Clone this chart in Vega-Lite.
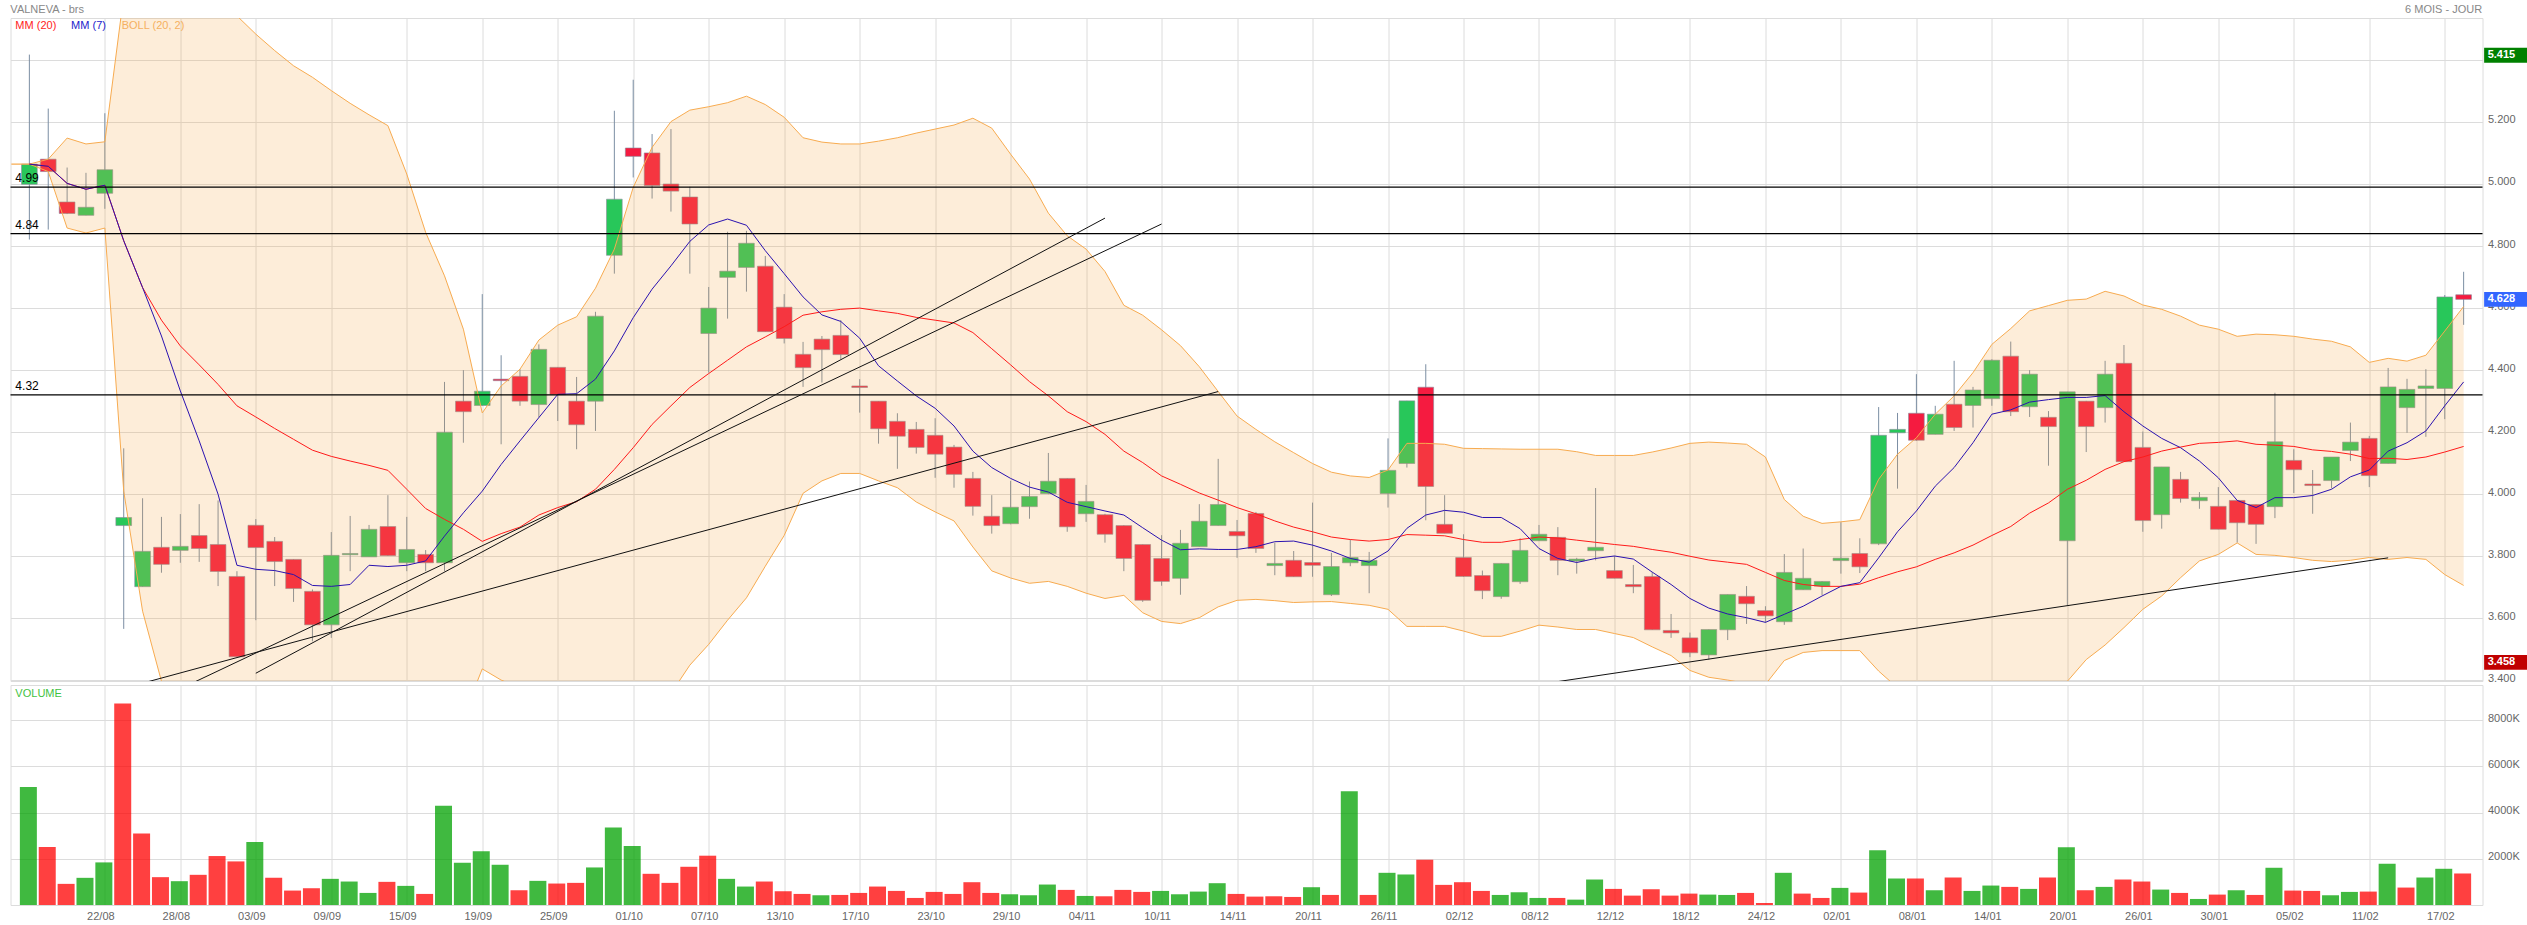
{
"$schema":"https://vega.github.io/schema/vega-lite/v6.json",
"background":"white",
"padding":{"left":8.5,"top":3,"right":0,"bottom":0},
"spacing":4,
"bounds":"flush",
"resolve":{"scale":{"color":"independent"}},
"config":{"view":{"stroke":"#dcdcdc","strokeWidth":1},"font":"Liberation Sans","concat":{"spacing":4}},
"datasets":{
"candles":[
{"date":"18/08","open":4.999,"high":5.417,"low":4.821,"close":5.064,"volume":5104,"volSide":"up","ma20":5.064,"ma7":5.064,"bollUp":5.064,"bollLow":5.064},
{"date":"19/08","open":5.08,"high":5.243,"low":4.853,"close":5.04,"volume":2509,"volSide":"down","ma20":5.057,"ma7":5.057,"bollUp":5.08,"bollLow":5.04},
{"date":"20/08","open":4.942,"high":5.053,"low":4.903,"close":4.905,"volume":914,"volSide":"down","ma20":5.002,"ma7":5.002,"bollUp":5.148,"bollLow":4.858},
{"date":"21/08","open":4.899,"high":5.036,"low":4.899,"close":4.925,"volume":1175,"volSide":"up","ma20":4.983,"ma7":4.983,"bollUp":5.129,"bollLow":4.842},
{"date":"22/08","open":4.97,"high":5.228,"low":4.92,"close":5.046,"volume":1842,"volSide":"up","ma20":4.996,"ma7":4.996,"bollUp":5.136,"bollLow":4.858},
{"date":"25/08","open":3.899,"high":4.148,"low":3.566,"close":3.925,"volume":8715,"volSide":"down","ma20":4.817,"ma7":4.817,"bollUp":5.607,"bollLow":4.01},
{"date":"26/08","open":3.702,"high":3.987,"low":3.702,"close":3.816,"volume":3089,"volSide":"down","ma20":4.666,"ma7":4.666,"bollUp":5.699,"bollLow":3.623},
{"date":"27/08","open":3.829,"high":3.927,"low":3.747,"close":3.774,"volume":1204,"volSide":"down","ma20":4.561,"ma7":4.51,"bollUp":5.752,"bollLow":3.397},
{"date":"28/08","open":3.819,"high":3.936,"low":3.779,"close":3.832,"volume":1030,"volSide":"up","ma20":4.478,"ma7":4.333,"bollUp":5.752,"bollLow":3.172},
{"date":"29/08","open":3.867,"high":3.968,"low":3.782,"close":3.825,"volume":1305,"volSide":"down","ma20":4.417,"ma7":4.172,"bollUp":5.699,"bollLow":3.01},
{"date":"01/09","open":3.838,"high":3.98,"low":3.704,"close":3.751,"volume":2117,"volSide":"down","ma20":4.354,"ma7":4.0,"bollUp":5.596,"bollLow":2.903},
{"date":"02/09","open":3.735,"high":3.752,"low":3.476,"close":3.476,"volume":1885,"volSide":"down","ma20":4.285,"ma7":3.771,"bollUp":5.542,"bollLow":2.795},
{"date":"03/09","open":3.9,"high":3.92,"low":3.594,"close":3.828,"volume":2726,"volSide":"up","ma20":4.249,"ma7":3.758,"bollUp":5.483,"bollLow":2.709},
{"date":"04/09","open":3.848,"high":3.862,"low":3.704,"close":3.783,"volume":1175,"volSide":"down","ma20":4.212,"ma7":3.754,"bollUp":5.43,"bollLow":2.65},
{"date":"05/09","open":3.79,"high":3.79,"low":3.653,"close":3.696,"volume":624,"volSide":"down","ma20":4.177,"ma7":3.741,"bollUp":5.381,"bollLow":2.6},
{"date":"08/09","open":3.687,"high":3.693,"low":3.526,"close":3.579,"volume":725,"volSide":"down","ma20":4.142,"ma7":3.706,"bollUp":5.344,"bollLow":2.6},
{"date":"09/09","open":3.579,"high":3.878,"low":3.537,"close":3.803,"volume":1131,"volSide":"up","ma20":4.122,"ma7":3.703,"bollUp":5.301,"bollLow":2.6},
{"date":"10/09","open":3.805,"high":3.93,"low":3.752,"close":3.809,"volume":1015,"volSide":"up","ma20":4.107,"ma7":3.709,"bollUp":5.26,"bollLow":2.65},
{"date":"11/09","open":3.798,"high":3.901,"low":3.798,"close":3.887,"volume":522,"volSide":"up","ma20":4.093,"ma7":3.771,"bollUp":5.223,"bollLow":2.7},
{"date":"12/09","open":3.896,"high":3.997,"low":3.801,"close":3.802,"volume":1001,"volSide":"down","ma20":4.077,"ma7":3.767,"bollUp":5.188,"bollLow":2.75},
{"date":"15/09","open":3.779,"high":3.927,"low":3.752,"close":3.822,"volume":827,"volSide":"up","ma20":4.016,"ma7":3.771,"bollUp":5.032,"bollLow":2.85},
{"date":"16/09","open":3.806,"high":3.82,"low":3.752,"close":3.779,"volume":479,"volSide":"down","ma20":3.954,"ma7":3.785,"bollUp":4.844,"bollLow":3.0},
{"date":"17/09","open":3.779,"high":4.362,"low":3.752,"close":4.2,"volume":4292,"volSide":"up","ma20":3.919,"ma7":3.865,"bollUp":4.704,"bollLow":3.1},
{"date":"18/09","open":4.3,"high":4.4,"low":4.166,"close":4.266,"volume":1827,"volSide":"up","ma20":3.887,"ma7":3.94,"bollUp":4.532,"bollLow":3.284},
{"date":"19/09","open":4.286,"high":4.645,"low":4.285,"close":4.332,"volume":2320,"volSide":"up","ma20":3.848,"ma7":4.01,"bollUp":4.262,"bollLow":3.437},
{"date":"22/09","open":4.371,"high":4.448,"low":4.161,"close":4.366,"volume":1740,"volSide":"up","ma20":3.873,"ma7":4.096,"bollUp":4.349,"bollLow":3.401},
{"date":"23/09","open":4.38,"high":4.403,"low":4.285,"close":4.3,"volume":638,"volSide":"down","ma20":3.894,"ma7":4.172,"bollUp":4.403,"bollLow":3.376},
{"date":"24/09","open":4.289,"high":4.483,"low":4.247,"close":4.467,"volume":1044,"volSide":"up","ma20":3.933,"ma7":4.247,"bollUp":4.497,"bollLow":3.344},
{"date":"25/09","open":4.409,"high":4.409,"low":4.236,"close":4.321,"volume":928,"volSide":"down","ma20":3.957,"ma7":4.322,"bollUp":4.545,"bollLow":3.322},
{"date":"26/09","open":4.3,"high":4.378,"low":4.145,"close":4.224,"volume":957,"volSide":"down","ma20":3.976,"ma7":4.324,"bollUp":4.572,"bollLow":3.3},
{"date":"29/09","open":4.3,"high":4.588,"low":4.204,"close":4.574,"volume":1624,"volSide":"up","ma20":4.016,"ma7":4.371,"bollUp":4.664,"bollLow":3.279},
{"date":"30/09","open":4.77,"high":5.236,"low":4.711,"close":4.951,"volume":3350,"volSide":"up","ma20":4.08,"ma7":4.462,"bollUp":4.79,"bollLow":3.258},
{"date":"01/10","open":5.116,"high":5.336,"low":5.021,"close":5.089,"volume":2552,"volSide":"up","ma20":4.15,"ma7":4.569,"bollUp":4.989,"bollLow":3.247},
{"date":"02/10","open":5.1,"high":5.161,"low":4.953,"close":4.995,"volume":1349,"volSide":"down","ma20":4.225,"ma7":4.661,"bollUp":5.118,"bollLow":3.301},
{"date":"03/10","open":5.0,"high":5.177,"low":4.911,"close":4.977,"volume":957,"volSide":"down","ma20":4.285,"ma7":4.736,"bollUp":5.201,"bollLow":3.358},
{"date":"06/10","open":4.958,"high":4.991,"low":4.711,"close":4.871,"volume":1653,"volSide":"down","ma20":4.344,"ma7":4.815,"bollUp":5.238,"bollLow":3.449},
{"date":"07/10","open":4.518,"high":4.668,"low":4.392,"close":4.6,"volume":2132,"volSide":"down","ma20":4.389,"ma7":4.868,"bollUp":5.249,"bollLow":3.516},
{"date":"08/10","open":4.699,"high":4.846,"low":4.566,"close":4.719,"volume":1131,"volSide":"up","ma20":4.432,"ma7":4.887,"bollUp":5.262,"bollLow":3.594},
{"date":"09/10","open":4.731,"high":4.849,"low":4.653,"close":4.809,"volume":798,"volSide":"up","ma20":4.475,"ma7":4.867,"bollUp":5.283,"bollLow":3.666},
{"date":"10/10","open":4.735,"high":4.768,"low":4.524,"close":4.524,"volume":1015,"volSide":"down","ma20":4.507,"ma7":4.785,"bollUp":5.256,"bollLow":3.768},
{"date":"13/10","open":4.603,"high":4.645,"low":4.486,"close":4.502,"volume":595,"volSide":"down","ma20":4.54,"ma7":4.711,"bollUp":5.215,"bollLow":3.867},
{"date":"14/10","open":4.451,"high":4.491,"low":4.346,"close":4.408,"volume":479,"volSide":"down","ma20":4.577,"ma7":4.636,"bollUp":5.149,"bollLow":4.003},
{"date":"15/10","open":4.5,"high":4.51,"low":4.36,"close":4.466,"volume":421,"volSide":"up","ma20":4.588,"ma7":4.578,"bollUp":5.135,"bollLow":4.043},
{"date":"16/10","open":4.512,"high":4.561,"low":4.435,"close":4.45,"volume":435,"volSide":"down","ma20":4.596,"ma7":4.557,"bollUp":5.129,"bollLow":4.067},
{"date":"17/10","open":4.349,"high":4.371,"low":4.263,"close":4.344,"volume":522,"volSide":"down","ma20":4.6,"ma7":4.503,"bollUp":5.129,"bollLow":4.067},
{"date":"20/10","open":4.3,"high":4.3,"low":4.163,"close":4.211,"volume":798,"volSide":"down","ma20":4.591,"ma7":4.414,"bollUp":5.138,"bollLow":4.043},
{"date":"21/10","open":4.235,"high":4.261,"low":4.082,"close":4.187,"volume":609,"volSide":"down","ma20":4.583,"ma7":4.365,"bollUp":5.149,"bollLow":4.021},
{"date":"22/10","open":4.209,"high":4.233,"low":4.131,"close":4.151,"volume":305,"volSide":"down","ma20":4.57,"ma7":4.317,"bollUp":5.164,"bollLow":3.975},
{"date":"23/10","open":4.19,"high":4.245,"low":4.053,"close":4.129,"volume":566,"volSide":"down","ma20":4.561,"ma7":4.277,"bollUp":5.177,"bollLow":3.943},
{"date":"24/10","open":4.152,"high":4.159,"low":4.021,"close":4.064,"volume":479,"volSide":"down","ma20":4.552,"ma7":4.22,"bollUp":5.19,"bollLow":3.914},
{"date":"27/10","open":4.051,"high":4.072,"low":3.931,"close":3.961,"volume":986,"volSide":"down","ma20":4.521,"ma7":4.139,"bollUp":5.212,"bollLow":3.83},
{"date":"28/10","open":3.929,"high":3.997,"low":3.873,"close":3.899,"volume":522,"volSide":"down","ma20":4.469,"ma7":4.086,"bollUp":5.18,"bollLow":3.753},
{"date":"29/10","open":3.905,"high":4.043,"low":3.903,"close":3.958,"volume":464,"volSide":"up","ma20":4.417,"ma7":4.051,"bollUp":5.096,"bollLow":3.73},
{"date":"30/10","open":3.96,"high":4.041,"low":3.921,"close":3.993,"volume":421,"volSide":"up","ma20":4.363,"ma7":4.023,"bollUp":5.016,"bollLow":3.713},
{"date":"31/10","open":4.002,"high":4.133,"low":4.0,"close":4.042,"volume":885,"volSide":"up","ma20":4.317,"ma7":4.007,"bollUp":4.906,"bollLow":3.719},
{"date":"03/11","open":4.051,"high":4.051,"low":3.879,"close":3.895,"volume":653,"volSide":"down","ma20":4.266,"ma7":3.974,"bollUp":4.833,"bollLow":3.703},
{"date":"04/11","open":3.937,"high":4.03,"low":3.911,"close":3.977,"volume":392,"volSide":"up","ma20":4.234,"ma7":3.96,"bollUp":4.79,"bollLow":3.681},
{"date":"05/11","open":3.934,"high":3.937,"low":3.844,"close":3.871,"volume":377,"volSide":"down","ma20":4.193,"ma7":3.946,"bollUp":4.718,"bollLow":3.664},
{"date":"06/11","open":3.899,"high":3.9,"low":3.752,"close":3.793,"volume":653,"volSide":"down","ma20":4.139,"ma7":3.933,"bollUp":4.609,"bollLow":3.674},
{"date":"07/11","open":3.838,"high":3.838,"low":3.653,"close":3.658,"volume":566,"volSide":"down","ma20":4.102,"ma7":3.892,"bollUp":4.577,"bollLow":3.618},
{"date":"10/11","open":3.793,"high":3.868,"low":3.705,"close":3.719,"volume":609,"volSide":"up","ma20":4.059,"ma7":3.852,"bollUp":4.53,"bollLow":3.59},
{"date":"11/11","open":3.729,"high":3.885,"low":3.676,"close":3.842,"volume":464,"volSide":"up","ma20":4.032,"ma7":3.821,"bollUp":4.479,"bollLow":3.583},
{"date":"12/11","open":3.831,"high":3.968,"low":3.831,"close":3.913,"volume":580,"volSide":"up","ma20":4.004,"ma7":3.824,"bollUp":4.411,"bollLow":3.602},
{"date":"13/11","open":3.899,"high":4.114,"low":3.899,"close":3.967,"volume":943,"volSide":"up","ma20":3.981,"ma7":3.822,"bollUp":4.331,"bollLow":3.637},
{"date":"14/11","open":3.88,"high":3.917,"low":3.795,"close":3.866,"volume":479,"volSide":"down","ma20":3.957,"ma7":3.822,"bollUp":4.252,"bollLow":3.658},
{"date":"17/11","open":3.938,"high":3.943,"low":3.811,"close":3.825,"volume":363,"volSide":"down","ma20":3.937,"ma7":3.831,"bollUp":4.209,"bollLow":3.661},
{"date":"18/11","open":3.77,"high":3.844,"low":3.739,"close":3.777,"volume":377,"volSide":"down","ma20":3.914,"ma7":3.847,"bollUp":4.169,"bollLow":3.657},
{"date":"19/11","open":3.787,"high":3.817,"low":3.734,"close":3.734,"volume":348,"volSide":"down","ma20":3.894,"ma7":3.849,"bollUp":4.134,"bollLow":3.651},
{"date":"20/11","open":3.78,"high":3.973,"low":3.734,"close":3.771,"volume":769,"volSide":"up","ma20":3.879,"ma7":3.836,"bollUp":4.099,"bollLow":3.653},
{"date":"21/11","open":3.676,"high":3.811,"low":3.672,"close":3.767,"volume":435,"volSide":"down","ma20":3.862,"ma7":3.817,"bollUp":4.071,"bollLow":3.654},
{"date":"24/11","open":3.779,"high":3.854,"low":3.768,"close":3.796,"volume":4916,"volSide":"up","ma20":3.854,"ma7":3.793,"bollUp":4.059,"bollLow":3.648},
{"date":"25/11","open":3.77,"high":3.814,"low":3.681,"close":3.787,"volume":435,"volSide":"down","ma20":3.849,"ma7":3.781,"bollUp":4.054,"bollLow":3.642},
{"date":"26/11","open":4.002,"high":4.18,"low":3.957,"close":4.077,"volume":1392,"volSide":"up","ma20":3.854,"ma7":3.817,"bollUp":4.078,"bollLow":3.629},
{"date":"27/11","open":4.099,"high":4.301,"low":4.086,"close":4.301,"volume":1320,"volSide":"up","ma20":3.87,"ma7":3.89,"bollUp":4.164,"bollLow":3.574},
{"date":"28/11","open":4.345,"high":4.419,"low":3.916,"close":4.025,"volume":1958,"volSide":"down","ma20":3.868,"ma7":3.933,"bollUp":4.164,"bollLow":3.574},
{"date":"01/12","open":3.903,"high":3.997,"low":3.874,"close":3.874,"volume":870,"volSide":"down","ma20":3.866,"ma7":3.948,"bollUp":4.161,"bollLow":3.574},
{"date":"02/12","open":3.796,"high":3.871,"low":3.734,"close":3.735,"volume":986,"volSide":"down","ma20":3.854,"ma7":3.942,"bollUp":4.148,"bollLow":3.559},
{"date":"03/12","open":3.738,"high":3.754,"low":3.662,"close":3.689,"volume":609,"volSide":"down","ma20":3.845,"ma7":3.925,"bollUp":4.147,"bollLow":3.542},
{"date":"04/12","open":3.67,"high":3.777,"low":3.663,"close":3.777,"volume":435,"volSide":"up","ma20":3.845,"ma7":3.925,"bollUp":4.146,"bollLow":3.542},
{"date":"05/12","open":3.718,"high":3.858,"low":3.711,"close":3.819,"volume":551,"volSide":"up","ma20":3.854,"ma7":3.889,"bollUp":4.145,"bollLow":3.559},
{"date":"08/12","open":3.85,"high":3.901,"low":3.85,"close":3.871,"volume":305,"volSide":"up","ma20":3.862,"ma7":3.825,"bollUp":4.145,"bollLow":3.578},
{"date":"09/12","open":3.861,"high":3.894,"low":3.739,"close":3.787,"volume":305,"volSide":"down","ma20":3.859,"ma7":3.793,"bollUp":4.145,"bollLow":3.572},
{"date":"10/12","open":3.785,"high":3.795,"low":3.744,"close":3.791,"volume":232,"volSide":"up","ma20":3.852,"ma7":3.78,"bollUp":4.137,"bollLow":3.564},
{"date":"11/12","open":3.818,"high":4.02,"low":3.787,"close":3.829,"volume":1102,"volSide":"up","ma20":3.845,"ma7":3.793,"bollUp":4.125,"bollLow":3.564},
{"date":"12/12","open":3.754,"high":3.801,"low":3.729,"close":3.729,"volume":696,"volSide":"down","ma20":3.838,"ma7":3.801,"bollUp":4.125,"bollLow":3.551},
{"date":"15/12","open":3.709,"high":3.772,"low":3.681,"close":3.702,"volume":406,"volSide":"down","ma20":3.832,"ma7":3.791,"bollUp":4.125,"bollLow":3.538},
{"date":"16/12","open":3.735,"high":3.749,"low":3.563,"close":3.563,"volume":682,"volSide":"down","ma20":3.822,"ma7":3.749,"bollUp":4.136,"bollLow":3.508},
{"date":"17/12","open":3.561,"high":3.614,"low":3.537,"close":3.553,"volume":406,"volSide":"down","ma20":3.813,"ma7":3.709,"bollUp":4.149,"bollLow":3.48},
{"date":"18/12","open":3.537,"high":3.554,"low":3.475,"close":3.489,"volume":493,"volSide":"down","ma20":3.8,"ma7":3.664,"bollUp":4.164,"bollLow":3.432},
{"date":"19/12","open":3.482,"high":3.564,"low":3.467,"close":3.564,"volume":450,"volSide":"up","ma20":3.788,"ma7":3.633,"bollUp":4.168,"bollLow":3.41},
{"date":"22/12","open":3.563,"high":3.677,"low":3.53,"close":3.677,"volume":435,"volSide":"up","ma20":3.781,"ma7":3.614,"bollUp":4.165,"bollLow":3.401},
{"date":"23/12","open":3.671,"high":3.704,"low":3.582,"close":3.647,"volume":522,"volSide":"down","ma20":3.774,"ma7":3.602,"bollUp":4.161,"bollLow":3.39},
{"date":"24/12","open":3.625,"high":3.639,"low":3.586,"close":3.608,"volume":87,"volSide":"down","ma20":3.748,"ma7":3.587,"bollUp":4.12,"bollLow":3.387},
{"date":"26/12","open":3.589,"high":3.807,"low":3.579,"close":3.748,"volume":1392,"volSide":"up","ma20":3.722,"ma7":3.613,"bollUp":3.983,"bollLow":3.464},
{"date":"29/12","open":3.692,"high":3.825,"low":3.692,"close":3.729,"volume":493,"volSide":"down","ma20":3.709,"ma7":3.639,"bollUp":3.929,"bollLow":3.49},
{"date":"30/12","open":3.704,"high":3.72,"low":3.675,"close":3.719,"volume":305,"volSide":"down","ma20":3.703,"ma7":3.672,"bollUp":3.906,"bollLow":3.496},
{"date":"02/01","open":3.786,"high":3.91,"low":3.744,"close":3.794,"volume":740,"volSide":"up","ma20":3.703,"ma7":3.703,"bollUp":3.911,"bollLow":3.496},
{"date":"05/01","open":3.809,"high":3.858,"low":3.746,"close":3.766,"volume":537,"volSide":"down","ma20":3.71,"ma7":3.715,"bollUp":3.918,"bollLow":3.496},
{"date":"06/01","open":3.84,"high":4.281,"low":3.836,"close":4.19,"volume":2364,"volSide":"up","ma20":3.731,"ma7":3.795,"bollUp":4.048,"bollLow":3.43},
{"date":"07/01","open":4.198,"high":4.262,"low":4.018,"close":4.209,"volume":1146,"volSide":"up","ma20":3.75,"ma7":3.879,"bollUp":4.129,"bollLow":3.376},
{"date":"08/01","open":4.261,"high":4.387,"low":4.172,"close":4.174,"volume":1146,"volSide":"down","ma20":3.766,"ma7":3.946,"bollUp":4.182,"bollLow":3.344},
{"date":"09/01","open":4.193,"high":4.285,"low":4.193,"close":4.258,"volume":638,"volSide":"up","ma20":3.79,"ma7":4.026,"bollUp":4.258,"bollLow":3.322},
{"date":"12/01","open":4.29,"high":4.43,"low":4.204,"close":4.215,"volume":1189,"volSide":"down","ma20":3.811,"ma7":4.086,"bollUp":4.317,"bollLow":3.3},
{"date":"13/01","open":4.286,"high":4.346,"low":4.215,"close":4.336,"volume":609,"volSide":"up","ma20":3.836,"ma7":4.166,"bollUp":4.392,"bollLow":3.29},
{"date":"14/01","open":4.308,"high":4.435,"low":4.285,"close":4.432,"volume":841,"volSide":"up","ma20":3.867,"ma7":4.258,"bollUp":4.483,"bollLow":3.3},
{"date":"15/01","open":4.445,"high":4.492,"low":4.252,"close":4.266,"volume":783,"volSide":"down","ma20":3.896,"ma7":4.272,"bollUp":4.534,"bollLow":3.322},
{"date":"16/01","open":4.282,"high":4.4,"low":4.249,"close":4.387,"volume":696,"volSide":"up","ma20":3.939,"ma7":4.297,"bollUp":4.591,"bollLow":3.344},
{"date":"19/01","open":4.248,"high":4.268,"low":4.092,"close":4.218,"volume":1189,"volSide":"down","ma20":3.972,"ma7":4.305,"bollUp":4.608,"bollLow":3.371},
{"date":"20/01","open":3.85,"high":4.33,"low":3.641,"close":4.33,"volume":2494,"volSide":"up","ma20":4.016,"ma7":4.312,"bollUp":4.625,"bollLow":3.397},
{"date":"21/01","open":4.3,"high":4.301,"low":4.136,"close":4.218,"volume":638,"volSide":"down","ma20":4.045,"ma7":4.312,"bollUp":4.629,"bollLow":3.467},
{"date":"22/01","open":4.279,"high":4.43,"low":4.231,"close":4.387,"volume":783,"volSide":"up","ma20":4.08,"ma7":4.318,"bollUp":4.654,"bollLow":3.514},
{"date":"23/01","open":4.422,"high":4.481,"low":4.105,"close":4.105,"volume":1102,"volSide":"down","ma20":4.105,"ma7":4.266,"bollUp":4.639,"bollLow":3.57},
{"date":"26/01","open":4.151,"high":4.202,"low":3.879,"close":3.915,"volume":1015,"volSide":"down","ma20":4.12,"ma7":4.22,"bollUp":4.61,"bollLow":3.629},
{"date":"27/01","open":3.934,"high":4.088,"low":3.889,"close":4.088,"volume":667,"volSide":"up","ma20":4.139,"ma7":4.18,"bollUp":4.596,"bollLow":3.672},
{"date":"28/01","open":4.048,"high":4.072,"low":3.973,"close":3.986,"volume":522,"volSide":"down","ma20":4.152,"ma7":4.15,"bollUp":4.574,"bollLow":3.731},
{"date":"29/01","open":3.979,"high":4.007,"low":3.953,"close":3.99,"volume":261,"volSide":"up","ma20":4.164,"ma7":4.107,"bollUp":4.545,"bollLow":3.785},
{"date":"30/01","open":3.961,"high":4.023,"low":3.887,"close":3.887,"volume":450,"volSide":"down","ma20":4.167,"ma7":4.053,"bollUp":4.532,"bollLow":3.806},
{"date":"02/02","open":3.98,"high":3.98,"low":3.844,"close":3.908,"volume":638,"volSide":"up","ma20":4.172,"ma7":3.98,"bollUp":4.509,"bollLow":3.843},
{"date":"03/02","open":3.967,"high":3.967,"low":3.84,"close":3.903,"volume":435,"volSide":"down","ma20":4.161,"ma7":3.957,"bollUp":4.516,"bollLow":3.806},
{"date":"04/02","open":3.96,"high":4.327,"low":3.923,"close":4.169,"volume":1610,"volSide":"up","ma20":4.158,"ma7":3.989,"bollUp":4.514,"bollLow":3.803},
{"date":"05/02","open":4.109,"high":4.145,"low":4.004,"close":4.079,"volume":624,"volSide":"down","ma20":4.154,"ma7":3.989,"bollUp":4.509,"bollLow":3.796},
{"date":"06/02","open":4.033,"high":4.078,"low":3.937,"close":4.028,"volume":609,"volSide":"down","ma20":4.143,"ma7":3.996,"bollUp":4.5,"bollLow":3.787},
{"date":"09/02","open":4.044,"high":4.12,"low":4.019,"close":4.12,"volume":421,"volSide":"up","ma20":4.138,"ma7":4.016,"bollUp":4.493,"bollLow":3.783},
{"date":"10/02","open":4.141,"high":4.231,"low":4.107,"close":4.168,"volume":566,"volSide":"up","ma20":4.129,"ma7":4.056,"bollUp":4.475,"bollLow":3.787},
{"date":"11/02","open":4.18,"high":4.188,"low":4.023,"close":4.06,"volume":580,"volSide":"down","ma20":4.115,"ma7":4.078,"bollUp":4.425,"bollLow":3.796},
{"date":"12/02","open":4.099,"high":4.407,"low":4.099,"close":4.346,"volume":1784,"volSide":"up","ma20":4.116,"ma7":4.139,"bollUp":4.438,"bollLow":3.79},
{"date":"13/02","open":4.279,"high":4.372,"low":4.198,"close":4.338,"volume":754,"volSide":"down","ma20":4.112,"ma7":4.166,"bollUp":4.429,"bollLow":3.796},
{"date":"16/02","open":4.341,"high":4.403,"low":4.185,"close":4.349,"volume":1189,"volSide":"up","ma20":4.12,"ma7":4.204,"bollUp":4.448,"bollLow":3.79},
{"date":"17/02","open":4.341,"high":4.642,"low":4.242,"close":4.636,"volume":1566,"volSide":"up","ma20":4.136,"ma7":4.285,"bollUp":4.526,"bollLow":3.741},
{"date":"18/02","open":4.643,"high":4.717,"low":4.546,"close":4.628,"volume":1363,"volSide":"down","ma20":4.154,"ma7":4.362,"bollUp":4.605,"bollLow":3.706}
],
"trends":[
{"line":"a","date":"28/08","price":3.373},{"line":"a","date":"10/11","price":4.871},
{"line":"b","date":"03/09","price":3.423},{"line":"b","date":"05/11","price":4.89},
{"line":"c","date":"26/08","price":3.391},{"line":"c","date":"13/11","price":4.331},
{"line":"d","date":"08/12","price":3.387},{"line":"d","date":"12/02","price":3.795}
],
"levels":[
{"date":"18/08","price":4.99,"label":"4.99"},
{"date":"18/08","price":4.84,"label":"4.84"},
{"date":"18/08","price":4.32,"label":"4.32"}
],
"tags":[
{"date":"18/02","price":5.415,"top":5.439,"bottom":5.391,"kind":"max"},
{"date":"18/02","price":4.628,"top":4.652,"bottom":4.604,"kind":"last"},
{"date":"18/02","price":3.458,"top":3.482,"bottom":3.434,"kind":"min"}
]
},
"vconcat":[
{
"width":2472,
"height":663,
"encoding":{
"x":{"field":"date","type":"ordinal","sort":null,"title":null,
"scale":{"type":"point","padding":1,"domain":["18/08","19/08","20/08","21/08","22/08","25/08","26/08","27/08","28/08","29/08","01/09","02/09","03/09","04/09","05/09","08/09","09/09","10/09","11/09","12/09","15/09","16/09","17/09","18/09","19/09","22/09","23/09","24/09","25/09","26/09","29/09","30/09","01/10","02/10","03/10","06/10","07/10","08/10","09/10","10/10","13/10","14/10","15/10","16/10","17/10","20/10","21/10","22/10","23/10","24/10","27/10","28/10","29/10","30/10","31/10","03/11","04/11","05/11","06/11","07/11","10/11","11/11","12/11","13/11","14/11","17/11","18/11","19/11","20/11","21/11","24/11","25/11","26/11","27/11","28/11","01/12","02/12","03/12","04/12","05/12","08/12","09/12","10/12","11/12","12/12","15/12","16/12","17/12","18/12","19/12","22/12","23/12","24/12","26/12","29/12","30/12","02/01","05/01","06/01","07/01","08/01","09/01","12/01","13/01","14/01","15/01","16/01","19/01","20/01","21/01","22/01","23/01","26/01","27/01","28/01","29/01","30/01","02/02","03/02","04/02","05/02","06/02","09/02","10/02","11/02","12/02","13/02","16/02","17/02","18/02"]},
"axis":{"values":["22/08","28/08","03/09","09/09","15/09","19/09","25/09","01/10","07/10","13/10","17/10","23/10","29/10","04/11","10/11","14/11","20/11","26/11","02/12","08/12","12/12","18/12","24/12","02/01","08/01","14/01","20/01","26/01","30/01","05/02","11/02","17/02"],"labels":false,"ticks":false,"domain":false,"grid":true,"gridColor":"#dcdcdc","gridWidth":1}}
},
"layer":[
{"data":{"name":"candles"},"mark":{"type":"rule","color":"#7b8ea3","strokeWidth":1},
"encoding":{"y":{"field":"low","type":"quantitative","title":null,"scale":{"domain":[3.398,5.535],"nice":false,"zero":false},
"axis":{"orient":"right","values":[3.4,3.6,3.8,4.0,4.2,4.4,4.6,4.8,5.0,5.2,5.4],"format":".3f","grid":true,"gridColor":"#dcdcdc","gridWidth":1,"ticks":false,"domain":false,"labelPadding":5,"labelOffset":-2,"labelColor":"#666666","labelFontSize":11,"labelFont":"Liberation Sans"}},"y2":{"field":"high"}}},
{"data":{"name":"candles"},"mark":{"type":"bar","width":15.7,"stroke":"#8a8a9a","strokeWidth":1,"strokeOpacity":0.6},
"encoding":{"y":{"field":"open","type":"quantitative","title":null,"axis":{"orient":"right"},"scale":{"domain":[3.398,5.535],"nice":false,"zero":false}},"y2":{"field":"close"},
"fill":{"condition":{"test":"datum.close >= datum.open","value":"#28c75a"},"value":"#f51b40"}}},
{"data":{"name":"candles"},"mark":{"type":"area","color":"#f7a440","opacity":0.2,"clip":true},
"encoding":{"y":{"field":"bollLow","type":"quantitative","title":null,"axis":{"orient":"right"},"scale":{"domain":[3.398,5.535],"nice":false,"zero":false}},"y2":{"field":"bollUp"}}},
{"data":{"name":"candles"},"mark":{"type":"line","color":"#f7ab50","strokeWidth":1,"clip":true},
"encoding":{"y":{"field":"bollUp","type":"quantitative","title":null,"axis":{"orient":"right"},"scale":{"domain":[3.398,5.535],"nice":false,"zero":false}}}},
{"data":{"name":"candles"},"mark":{"type":"line","color":"#f7ab50","strokeWidth":1,"clip":true},
"encoding":{"y":{"field":"bollLow","type":"quantitative","title":null,"axis":{"orient":"right"},"scale":{"domain":[3.398,5.535],"nice":false,"zero":false}}}},
{"data":{"values":[{"date":"18/08","low":5.062,"high":5.066}]},"mark":{"type":"bar","width":18,"xOffset":-9,"color":"#f7ab50"},
"encoding":{"y":{"field":"low","type":"quantitative","title":null,"axis":{"orient":"right"},"scale":{"domain":[3.398,5.535],"nice":false,"zero":false}},"y2":{"field":"high"}}},
{"data":{"name":"candles"},"mark":{"type":"line","color":"#ff1a1a","strokeWidth":1,"clip":true},
"encoding":{"y":{"field":"ma20","type":"quantitative","title":null,"axis":{"orient":"right"},"scale":{"domain":[3.398,5.535],"nice":false,"zero":false}}}},
{"data":{"name":"candles"},"mark":{"type":"line","color":"#2a12b0","strokeWidth":1,"clip":true},
"encoding":{"y":{"field":"ma7","type":"quantitative","title":null,"axis":{"orient":"right"},"scale":{"domain":[3.398,5.535],"nice":false,"zero":false}}}},
{"data":{"name":"levels"},"mark":{"type":"rule","color":"#000000","strokeWidth":1.2},
"encoding":{"x":null,"y":{"field":"price","type":"quantitative","title":null,"axis":{"orient":"right"},"scale":{"domain":[3.398,5.535],"nice":false,"zero":false}}}},
{"data":{"name":"trends"},"mark":{"type":"line","color":"#111111","strokeWidth":1,"clip":true},
"encoding":{"detail":{"field":"line"},"y":{"field":"price","type":"quantitative","title":null,"axis":{"orient":"right"},"scale":{"domain":[3.398,5.535],"nice":false,"zero":false}}}},
{"data":{"name":"levels"},"mark":{"type":"text","align":"left","dx":-14,"dy":-9,"fontSize":12,"color":"#000000","font":"Liberation Sans"},
"encoding":{"text":{"field":"label"},"y":{"field":"price","type":"quantitative","title":null,"axis":{"orient":"right"},"scale":{"domain":[3.398,5.535],"nice":false,"zero":false}}}},
{"data":{"values":[{"date":"18/08","price":5.562,"label":"VALNEVA - brs"}]},"mark":{"type":"text","align":"left","dx":-19,"fontSize":11,"color":"#888888","font":"Liberation Sans"},
"encoding":{"text":{"field":"label"},"y":{"field":"price","type":"quantitative","title":null,"axis":{"orient":"right"},"scale":{"domain":[3.398,5.535],"nice":false,"zero":false}}}},
{"data":{"values":[{"date":"18/02","price":5.562,"label":"6 MOIS - JOUR"}]},"mark":{"type":"text","align":"right","dx":18.5,"fontSize":11,"color":"#888888","font":"Liberation Sans"},
"encoding":{"text":{"field":"label"},"y":{"field":"price","type":"quantitative","title":null,"axis":{"orient":"right"},"scale":{"domain":[3.398,5.535],"nice":false,"zero":false}}}},
{"data":{"values":[{"date":"18/08","price":5.51,"label":"MM (20)"}]},"mark":{"type":"text","align":"left","dx":-14,"fontSize":11,"color":"#ff2222","font":"Liberation Sans"},
"encoding":{"text":{"field":"label"},"y":{"field":"price","type":"quantitative","title":null,"axis":{"orient":"right"},"scale":{"domain":[3.398,5.535],"nice":false,"zero":false}}}},
{"data":{"values":[{"date":"20/08","price":5.51,"label":"MM (7)"}]},"mark":{"type":"text","align":"left","dx":4,"fontSize":11,"color":"#2222cc","font":"Liberation Sans"},
"encoding":{"text":{"field":"label"},"y":{"field":"price","type":"quantitative","title":null,"axis":{"orient":"right"},"scale":{"domain":[3.398,5.535],"nice":false,"zero":false}}}},
{"data":{"values":[{"date":"25/08","price":5.51,"label":"BOLL (20, 2)"}]},"mark":{"type":"text","align":"left","dx":-2,"fontSize":11,"color":"#f5b060","font":"Liberation Sans"},
"encoding":{"text":{"field":"label"},"y":{"field":"price","type":"quantitative","title":null,"axis":{"orient":"right"},"scale":{"domain":[3.398,5.535],"nice":false,"zero":false}}}},
{"data":{"name":"tags"},"mark":{"type":"bar","width":43,"xOffset":42},
"encoding":{"y":{"field":"bottom","type":"quantitative","title":null,"axis":{"orient":"right"},"scale":{"domain":[3.398,5.535],"nice":false,"zero":false}},"y2":{"field":"top"},
"color":{"field":"kind","type":"nominal","legend":null,"scale":{"domain":["max","last","min"],"range":["#008000","#3366ff","#c00000"]}}}},
{"data":{"name":"tags"},"mark":{"type":"text","align":"left","dx":24,"fontSize":11,"fontWeight":"bold","color":"#ffffff","font":"Liberation Sans"},
"encoding":{"text":{"field":"price","type":"quantitative","format":".3f"},"y":{"field":"price","type":"quantitative","title":null,"axis":{"orient":"right"},"scale":{"domain":[3.398,5.535],"nice":false,"zero":false}}}}
]
},
{
"width":2472,
"height":220,
"encoding":{
"x":{"field":"date","type":"ordinal","sort":null,"title":null,
"scale":{"type":"point","padding":1,"domain":["18/08","19/08","20/08","21/08","22/08","25/08","26/08","27/08","28/08","29/08","01/09","02/09","03/09","04/09","05/09","08/09","09/09","10/09","11/09","12/09","15/09","16/09","17/09","18/09","19/09","22/09","23/09","24/09","25/09","26/09","29/09","30/09","01/10","02/10","03/10","06/10","07/10","08/10","09/10","10/10","13/10","14/10","15/10","16/10","17/10","20/10","21/10","22/10","23/10","24/10","27/10","28/10","29/10","30/10","31/10","03/11","04/11","05/11","06/11","07/11","10/11","11/11","12/11","13/11","14/11","17/11","18/11","19/11","20/11","21/11","24/11","25/11","26/11","27/11","28/11","01/12","02/12","03/12","04/12","05/12","08/12","09/12","10/12","11/12","12/12","15/12","16/12","17/12","18/12","19/12","22/12","23/12","24/12","26/12","29/12","30/12","02/01","05/01","06/01","07/01","08/01","09/01","12/01","13/01","14/01","15/01","16/01","19/01","20/01","21/01","22/01","23/01","26/01","27/01","28/01","29/01","30/01","02/02","03/02","04/02","05/02","06/02","09/02","10/02","11/02","12/02","13/02","16/02","17/02","18/02"]},
"axis":{"values":["22/08","28/08","03/09","09/09","15/09","19/09","25/09","01/10","07/10","13/10","17/10","23/10","29/10","04/11","10/11","14/11","20/11","26/11","02/12","08/12","12/12","18/12","24/12","02/01","08/01","14/01","20/01","26/01","30/01","05/02","11/02","17/02"],"labelAngle":0,"labelOffset":-4.5,"labelPadding":5,"labelFontSize":11,"labelColor":"#666666","labelFont":"Liberation Sans","labelOverlap":false,"labelFlush":false,"labelBound":false,"ticks":false,"domain":false,"grid":true,"gridColor":"#dcdcdc","gridWidth":1}}
},
"layer":[
{"data":{"name":"candles"},"mark":{"type":"bar","width":17,"xOffset":-1,"opacity":0.75},
"encoding":{"y":{"field":"volume","type":"quantitative","title":null,"scale":{"domain":[0,9514],"nice":false},
"axis":{"orient":"right","values":[2000,4000,6000,8000],"labelExpr":"datum.value + 'K'","grid":true,"gridColor":"#dcdcdc","gridWidth":1,"ticks":false,"domain":false,"labelPadding":5,"labelOffset":-2,"labelColor":"#666666","labelFontSize":11,"labelFont":"Liberation Sans"}},
"color":{"field":"volSide","type":"nominal","legend":null,"scale":{"domain":["up","down"],"range":["#00a200","#ff0000"]}}}},
{"data":{"values":[{"date":"18/08","volume":9137,"label":"VOLUME"}]},"mark":{"type":"text","align":"left","dx":-14,"fontSize":11,"color":"#3fc23f","font":"Liberation Sans"},
"encoding":{"text":{"field":"label"},"y":{"field":"volume","type":"quantitative","title":null,"axis":{"orient":"right"},"scale":{"domain":[0,9514],"nice":false}}}}
]
}
]
}
